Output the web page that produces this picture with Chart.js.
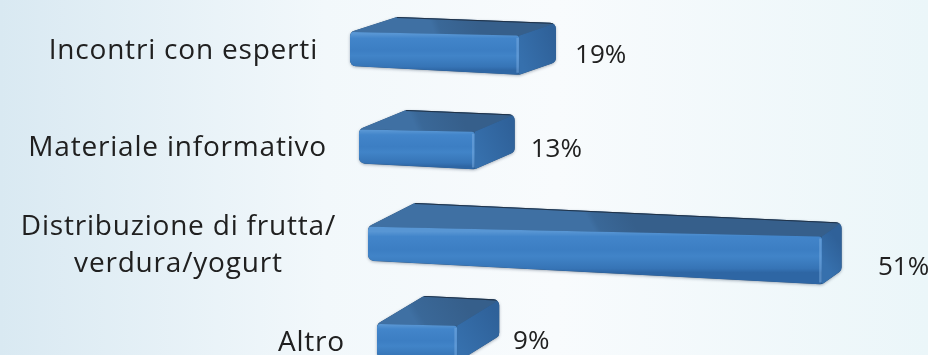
<!DOCTYPE html>
<html>
<head>
<meta charset="utf-8">
<script src="https://cdn.jsdelivr.net/npm/chart.js@4"></script>
<style>
  html, body { margin: 0; padding: 0; overflow: hidden; background: #f5f9fb; }
  canvas { display: block; }
</style>
</head>
<body>
<canvas id="chart" width="928" height="355"></canvas>
<script>
// Iniziative svolte: quota di scuole per tipo di attività
const categories = [
  'Incontri con esperti',
  'Materiale informativo',
  ['Distribuzione di frutta/', 'verdura/yogurt'],
  'Altro'
];
const shares = [19, 13, 51, 9];
const valueLabels = shares.map(v => v + '%');

const LABEL_FONT = '28px "Open Sans", "Noto Sans", sans-serif';
const LABEL_SPACING = '0.8px';
const VALUE_FONT = '26px "Open Sans", "Noto Sans", sans-serif';
const INK = '#202020';

// Perspective that turns each flat bar into a block seen from above-left.
const persp = {
  shearX: 0.0925,     // rows lower down start further right
  riseY: 0.037,       // bars slope down toward their end
  grow: 0.0009,       // bar face gets taller toward its end
  depthX: 47,         // horizontal depth of the block at the base
  depthXFall: 0.06,   // depth shrinks toward the end of the bar
  depthY: 15,         // vertical depth of the block on the top row
  depthYGrow: 0.045,  // lower rows show more of the top face
  depthYFall: 0.0009,
  labelGap: 32,
  valueGap: 56,
  valueRise: 0.025,
  lineHeight: 37
};

function project(area, X, Y, half, t, d) {
  const u = X - area.left;
  const v = Y - area.top;
  const h = half * (1 + persp.grow * u);
  const dx = persp.depthX - persp.depthXFall * u;
  const dy = -(persp.depthY + persp.depthYGrow * v) * (1 - persp.depthYFall * u);
  return {
    x: X + persp.shearX * v + d * dx,
    y: Y + 1 + persp.riseY * u + t * h + d * dy
  };
}

function mid(a, b) { return { x: (a.x + b.x) / 2, y: (a.y + b.y) / 2 }; }

function polyPath(ctx, pts) {
  ctx.beginPath();
  ctx.moveTo(pts[0].x, pts[0].y);
  for (let i = 1; i < pts.length; i++) ctx.lineTo(pts[i].x, pts[i].y);
  ctx.closePath();
}

function roundPath(ctx, pts, r) {
  const n = pts.length;
  const start = mid(pts[n - 1], pts[0]);
  ctx.beginPath();
  ctx.moveTo(start.x, start.y);
  for (let i = 0; i < n; i++) {
    const p = pts[i];
    const q = mid(pts[i], pts[(i + 1) % n]);
    ctx.arcTo(p.x, p.y, q.x, q.y, r);
  }
  ctx.closePath();
}

function gradient(ctx, a, b, stops) {
  const g = ctx.createLinearGradient(a.x, a.y, b.x, b.y);
  stops.forEach(([o, c]) => g.addColorStop(o, c));
  return g;
}

const backdrop = {
  id: 'backdrop',
  beforeDraw(chart) {
    const { ctx, width, height } = chart;
    ctx.save();
    ctx.fillStyle = gradient(ctx, { x: 0, y: 0 }, { x: width, y: 0 }, [
      [0, '#d9e9f2'], [0.35, '#f2f8fb'], [0.6, '#f8fbfd'], [1, '#ebf6f9']
    ]);
    ctx.fillRect(0, 0, width, height);
    ctx.restore();
  }
};

const blocks = {
  id: 'blocks',
  afterDatasetsDraw(chart) {
    const { ctx, chartArea: area } = chart;
    const meta = chart.getDatasetMeta(0);
    const labels = chart.data.labels;

    meta.data.forEach((el, i) => {
      const b = el.getProps(['x', 'y', 'base', 'height'], true);
      const half = b.height / 2;
      const P = (X, t, d) => project(area, X, b.y, half, t, d);

      const FTL = P(b.base, -1, 0), FTR = P(b.x, -1, 0);
      const FBR = P(b.x, 1, 0), FBL = P(b.base, 1, 0);
      const BTL = P(b.base, -1, 1), BTR = P(b.x, -1, 1), BBR = P(b.x, 1, 1);
      const outline = [FTL, BTL, BTR, BBR, FBR, FBL];

      // body with a soft contact shadow
      ctx.save();
      ctx.shadowColor = 'rgba(20, 40, 70, 0.35)';
      ctx.shadowBlur = 3;
      ctx.shadowOffsetY = 1;
      roundPath(ctx, outline, 6);
      ctx.fillStyle = '#2c5580';
      ctx.fill();
      ctx.restore();

      ctx.save();
      roundPath(ctx, outline, 6);
      ctx.clip();

      // top face
      polyPath(ctx, [FTL, BTL, BTR, FTR]);
      ctx.fillStyle = gradient(ctx, mid(FTL, FTR), mid(BTL, BTR), [
        [0, '#3f70a3'], [0.15, '#3a6898'], [1, '#365f8b']
      ]);
      ctx.fill();

      // end face
      polyPath(ctx, [FTR, BTR, BBR, FBR]);
      ctx.fillStyle = gradient(ctx, mid(FTR, FBR), mid(BTR, BBR), [
        [0, '#3670ad'], [1, '#2f6199']
      ]);
      ctx.fill();

      // front face
      roundPath(ctx, [FTL, FTR, FBR, FBL], 3);
      ctx.fillStyle = gradient(ctx, mid(FTL, FTR), mid(FBL, FBR), [
        [0, '#5896d4'], [0.12, '#4285ca'], [0.45, '#3c7ec3'],
        [0.6, '#4184c8'], [0.9, '#3674b6'], [1, '#2e66a4']
      ]);
      ctx.fill();

      // rounded edge catching the light at the end of the front face
      ctx.beginPath();
      ctx.moveTo(FTR.x - 1.5, FTR.y + 2);
      ctx.lineTo(FBR.x - 1.5, FBR.y - 2);
      ctx.strokeStyle = 'rgba(130, 180, 230, 0.45)';
      ctx.lineWidth = 2.5;
      ctx.stroke();

      // dark rim along the back edge
      ctx.beginPath();
      ctx.moveTo(BTL.x, BTL.y);
      ctx.lineTo(BTR.x, BTR.y);
      ctx.strokeStyle = 'rgba(28, 42, 60, 0.85)';
      ctx.lineWidth = 2;
      ctx.stroke();
      ctx.restore();

      // category label
      ctx.save();
      ctx.font = LABEL_FONT;
      ctx.fillStyle = INK;
      ctx.textBaseline = 'middle';
      ctx.textAlign = 'center';
      ctx.letterSpacing = LABEL_SPACING;
      const a = P(b.base, 0, 0);
      const lines = Array.isArray(labels[i]) ? labels[i] : [labels[i]];
      const w = Math.max(...lines.map(l => ctx.measureText(l).width));
      const cx = a.x - persp.labelGap - w / 2;
      lines.forEach((l, k) => {
        ctx.fillText(l, cx, a.y + 2 + (k - (lines.length - 1) / 2) * persp.lineHeight);
      });

      // value label
      ctx.font = VALUE_FONT;
      ctx.letterSpacing = '0px';
      const e = P(b.x, 0, 0);
      const u = b.x - area.left;
      ctx.textAlign = 'left';
      ctx.fillText(valueLabels[i], e.x + persp.valueGap, e.y + persp.valueRise * u - 4);
      ctx.restore();
    });
  }
};

new Chart(document.getElementById('chart'), {
  type: 'bar',
  data: {
    labels: categories,
    datasets: [{
      data: shares,
      backgroundColor: 'rgba(0,0,0,0)',
      borderWidth: 0,
      barThickness: 34
    }]
  },
  options: {
    indexAxis: 'y',
    responsive: false,
    animation: false,
    devicePixelRatio: 1,
    events: [],
    layout: { padding: { left: 350, right: 44, top: 48, bottom: 15 } },
    scales: {
      x: { type: 'linear', min: 0, max: 60, display: false },
      y: { type: 'category', offset: false, display: false }
    },
    plugins: { legend: { display: false }, tooltip: { enabled: false } }
  },
  plugins: [backdrop, blocks]
});
</script>
</body>
</html>
